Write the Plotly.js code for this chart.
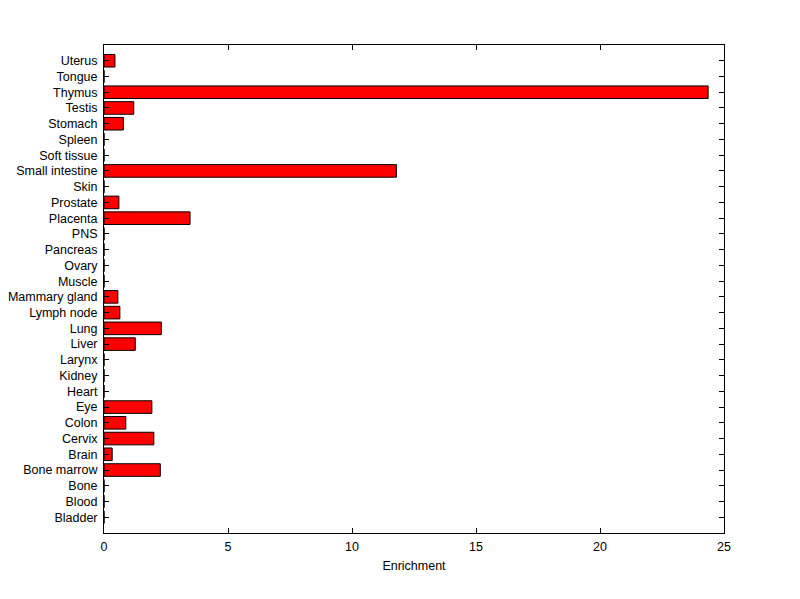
<!DOCTYPE html>
<html>
<head>
<meta charset="utf-8">
<script src="https://cdn.plot.ly/plotly-3.0.1.min.js"></script>
<style>html,body{margin:0;padding:0;background:#fff;}#chart{width:800px;height:599px;}</style>
</head>
<body>
<div id="chart"></div>
<script>
const tissues = ["Bladder","Blood","Bone","Bone marrow","Brain","Cervix","Colon","Eye","Heart","Kidney","Larynx","Liver","Lung","Lymph node","Mammary gland","Muscle","Ovary","Pancreas","PNS","Placenta","Prostate","Skin","Small intestine","Soft tissue","Spleen","Stomach","Testis","Thymus","Tongue","Uterus"];
const enrichment = [0,0,0,2.27,0.33,2.01,0.88,1.93,0,0,0,1.26,2.31,0.64,0.56,0,0,0,0,3.47,0.60,0,11.79,0,0,0.78,1.20,24.36,0,0.44];
const xTicks = [0,5,10,15,20,25];

const trace = {
  type: 'bar',
  orientation: 'h',
  y: tissues,
  x: enrichment,
  width: 0.8,
  marker: {color: '#ff0000', line: {color: '#000000', width: 1}},
  hoverinfo: 'x+y'
};

const layout = {
  width: 800, height: 599,
  margin: {l: 104, r: 76, t: 45, b: 66},
  paper_bgcolor: '#ffffff',
  plot_bgcolor: '#ffffff',
  font: {family: 'Arial, "Liberation Sans", sans-serif', size: 12.5, color: '#000'},
  showlegend: false,
  xaxis: {
    range: [0, 25],
    tickvals: xTicks,
    ticktext: xTicks.map(String),
    ticks: 'inside', ticklen: 5, tickcolor: '#000', tickwidth: 1,
    showline: true, linecolor: '#000', linewidth: 1, mirror: 'ticks',
    showgrid: false, zeroline: false,
    ticklabelstandoff: 2,
    title: {text: 'Enrichment', font: {size: 12.5}, standoff: 8},
    automargin: false
  },
  yaxis: {
    type: 'category',
    categoryorder: 'array', categoryarray: tissues,
    tickmode: 'array', tickvals: tissues, ticktext: tissues,
    range: [-1, 30],
    ticks: 'inside', ticklen: 5, tickcolor: '#000', tickwidth: 1,
    showline: true, linecolor: '#000', linewidth: 1, mirror: 'ticks',
    showgrid: false, zeroline: false,
    ticklabelstandoff: 3,
    automargin: false
  }
};

Plotly.newPlot('chart', [trace], layout, {displayModeBar: false, staticPlot: true});
</script>
</body>
</html>
